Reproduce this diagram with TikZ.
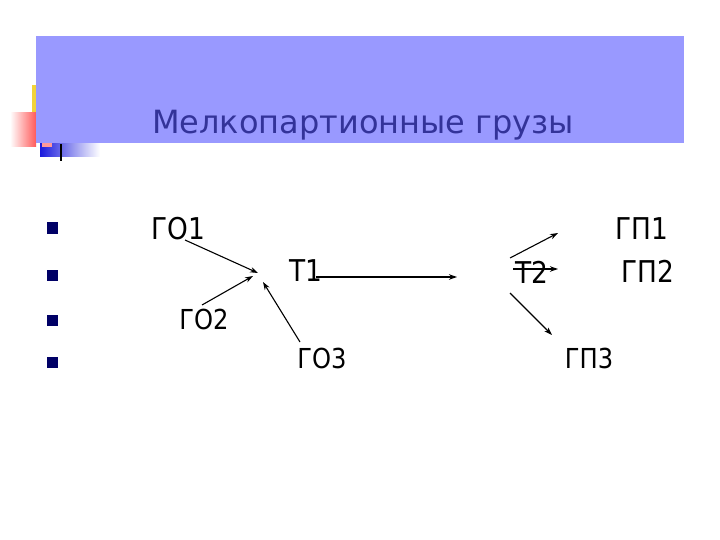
\documentclass[tikz,border=0pt]{standalone}
\usepackage{fontspec}
\setmainfont{DejaVu Sans}
\newfontfamily\bodyfont[FakeStretch=0.88]{DejaVu Sans}
\usetikzlibrary{arrows.meta}
\definecolor{boxblue}{HTML}{9999FF}
\definecolor{titleblue}{HTML}{333399}
\definecolor{bulletnavy}{HTML}{000066}
\definecolor{decoyellow}{HTML}{F2D33A}
\definecolor{decored}{HTML}{FF5A5A}
\definecolor{decoblue}{HTML}{1A1ADD}
\begin{document}
\begin{tikzpicture}[x=1pt,y=-1pt,
  lbl/.style={inner sep=0pt,font=\bodyfont\fontsize{30}{34}\selectfont},
  lbls/.style={inner sep=0pt,font=\bodyfont\fontsize{27.5}{32}\selectfont},
  bul/.style={fill=bulletnavy,draw=none,minimum size=11pt,inner sep=0pt},
  arr/.style={-{Stealth[length=8pt,width=5.5pt]},line width=1.1pt}]
\useasboundingbox (0,0) rectangle (720,540);
\fill[white] (0,0) rectangle (720,540);
% decoration
\fill[decoyellow] (32,85) rectangle (80,140);
\shade[left color=white,right color=decored] (10,113) rectangle (36,147);
\shade[left color=decoblue,right color=white] (40,143) rectangle (100,157);
\fill[pink!80!red] (42,143) rectangle (52,147);
\draw[line width=1.2pt] (61,144) -- (61,161);
% title box
\fill[boxblue] (36,36) rectangle (684,143);
\node[inner sep=0pt,anchor=base,text=titleblue,font=\fontsize{32}{38}\selectfont] (title) at (363,134) {Мелкопартионные грузы};
% bullets
\node[bul] (b1) at (52,228) {};
\node[bul] (b2) at (52,275) {};
\node[bul] (b3) at (52,320) {};
\node[bul] (b4) at (52,362) {};
% labels
\node[lbl] (go1) at (178,229) {ГО1};
\node[lbl] (t1) at (306,271) {Т1};
\node[lbls] (go2) at (204,319) {ГО2};
\node[lbls] (go3) at (322,358) {ГО3};
\node[lbl] (t2) at (532,272) {Т2};
\node[lbl] (gp1) at (642,229) {ГП1};
\node[lbl] (gp2) at (648,271) {ГП2};
\node[lbls] (gp3) at (589,358) {ГП3};
% arrow points
\coordinate (a1s) at (185,240);
\coordinate (a1e) at (258,273);
\coordinate (a2s) at (202,305);
\coordinate (a2e) at (253,276);
\coordinate (a3s) at (300,342);
\coordinate (a3e) at (263,282);
\coordinate (m1s) at (316,277);
\coordinate (m1e) at (457,277);
\coordinate (b1s) at (510,258);
\coordinate (b1e) at (558,233);
\coordinate (b2s) at (513,269);
\coordinate (b2e) at (558,269);
\coordinate (b3s) at (510,293);
\coordinate (b3e) at (552,335);
\draw[arr] (a1s) -- (a1e);
\draw[arr] (a2s) -- (a2e);
\draw[arr] (a3s) -- (a3e);
\draw[arr] (m1s) -- (m1e);
\draw[arr] (b1s) -- (b1e);
\draw[arr] (b2s) -- (b2e);
\draw[arr] (b3s) -- (b3e);
\end{tikzpicture}
\end{document}
